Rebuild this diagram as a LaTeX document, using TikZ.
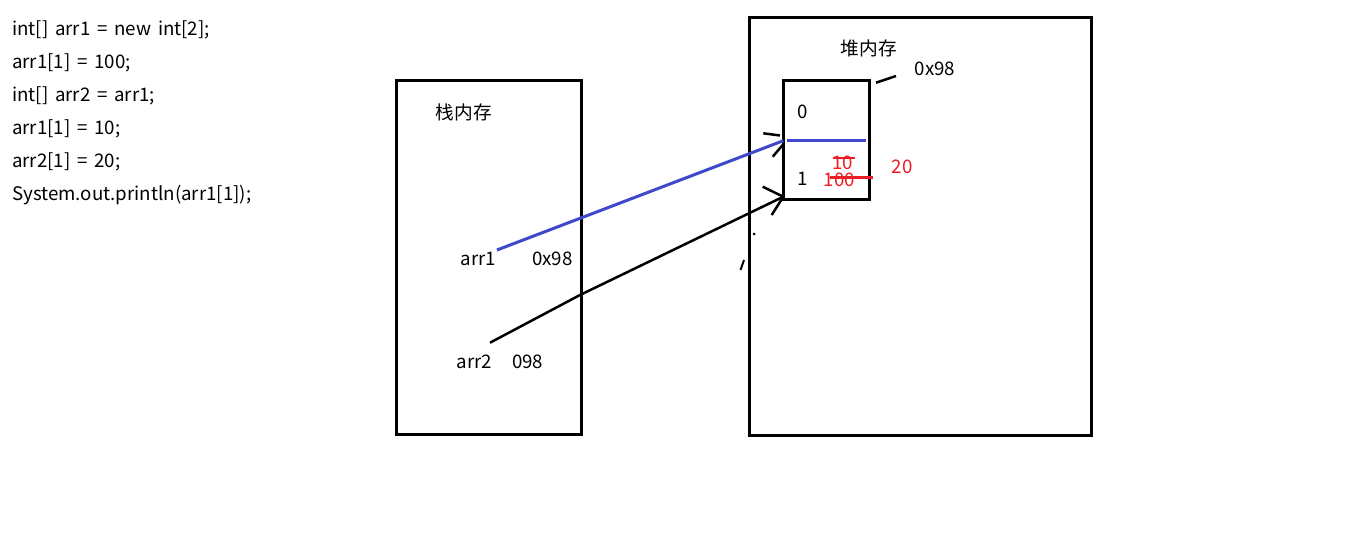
\documentclass[tikz,border=0pt]{standalone}
\usepackage{fontspec}
\setmainfont{Noto Sans CJK SC}
\definecolor{pblue}{RGB}{63,72,204}
\definecolor{pred}{RGB}{237,28,36}
\newcommand\diagfont{\fontsize{18.7}{22}\selectfont\spaceskip 0.36em\relax}
\begin{document}
\begin{tikzpicture}[x=1pt,y=-1pt,
  txt/.style={inner sep=0pt,anchor=base west,font={\diagfont}},
  rtxt/.style={txt,text=pred,text height=13.5pt,text depth=0pt},
  box/.style={draw=black,line width=3pt},
  pen/.style={draw=black,line width=3pt},
  bpen/.style={draw=pblue,line width=3pt},
  rpen/.style={draw=pred,line width=2.5pt}]
\useasboundingbox[fill=white] (0,0) rectangle (1359,541);
% code
\node[txt] (c1) at (12,35) {int[] arr1 = new int[2];};
\node[txt] (c2) at (12,68) {arr1[1] = 100;};
\node[txt] (c3) at (12,101) {int[] arr2 = arr1;};
\node[txt] (c4) at (12,134) {arr1[1] = 10;};
\node[txt] (c5) at (12,167) {arr2[1] = 20;};
\node[txt] (c6) at (12,200) {System.out.println(arr1[1]);};
% stack
\draw[box] (396.5,80.8) rectangle (581.5,434.8);
\node[txt] (stack) at (435.5,119) {栈内存};
\node[txt] (a1) at (460.5,265.5) {arr1};
\node[txt] (a1v) at (532,265.5) {0x98};
\node[txt] (a2) at (456.5,368) {arr2};
\node[txt] (a2v) at (512,368.5) {098};
% heap
\draw[box] (749.8,17.5) rectangle (1091.8,435.5);
\node[txt] (heap) at (840.5,55) {堆内存};
\node[txt] (addr) at (914.5,75.5) {0x98};
\draw[box] (783.8,80.8) rectangle (869.5,199.5);
\node[txt] (i0) at (797.5,118.5) {0};
\node[txt] (i1) at (797,185) {1};
\node[rtxt] (v10) at (832,169.8) {10};
\node[rtxt] (v100) at (823.5,186) {100};
\node[rtxt] (v20) at (891.5,173.5) {20};
% marks
\coordinate (t1) at (876,82.7);
\coordinate (t2) at (896,76);
\draw[pen,line width=2.5pt] (t1) -- (t2);
\coordinate (d1) at (787,140.3);
\coordinate (d2) at (866,140.3);
\draw[bpen] (d1) -- (d2);
\coordinate (s1) at (833.3,158.3);
\coordinate (s2) at (855,158.3);
\draw[rpen,line width=2pt] (s1) -- (s2);
\coordinate (r1) at (830,177.2);
\coordinate (r2) at (873,177.2);
\draw[rpen,line width=3pt] (r1) -- (r2);
% arrows
\coordinate (b0) at (497,250);
\coordinate (b1) at (783.3,140.7);
\draw[bpen] (b0) -- (b1);
\coordinate (bh1) at (763.3,133.3);
\coordinate (bh1e) at (780,135.5);
\coordinate (bh2) at (772.7,156.7);
\coordinate (bh2e) at (782.7,145);
\draw[pen,line width=2.5pt] (bh1) -- (bh1e);
\draw[pen,line width=2.5pt] (bh2) -- (bh2e);
\coordinate (k0) at (490,342.7);
\coordinate (k1) at (783.3,196.7);
\draw[pen,line width=2.5pt] (k0) -- (580,295) -- (k1);
\coordinate (kh1) at (762.7,186.7);
\coordinate (kh2) at (771.7,215);
\draw[pen,line width=2.5pt] (kh1) -- (k1);
\draw[pen,line width=2.5pt] (kh2) -- (k1);
\coordinate (dot) at (754,234);
\fill (dot) circle (1.5);
\coordinate (m1) at (740.5,270);
\coordinate (m2) at (744,260);
\draw[pen,line width=2pt] (m1) -- (m2);
\end{tikzpicture}
\end{document}
